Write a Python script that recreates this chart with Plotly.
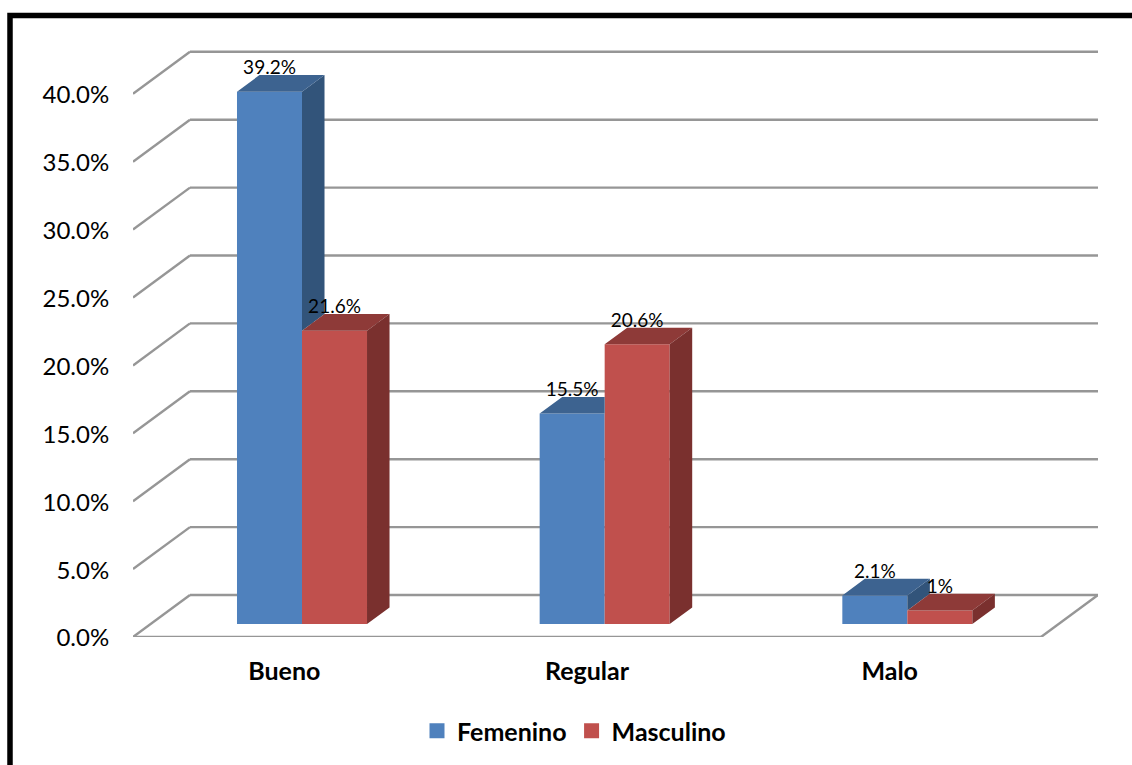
import plotly.graph_objects as go

# Chart data
categories = ["Bueno", "Regular", "Malo"]
femenino = [39.2, 15.5, 2.1]
masculino = [21.6, 20.6, 1.0]
y_ticks = [0, 5, 10, 15, 20, 25, 30, 35, 40]

# Oblique projection used for the 3D look, in axis units
WALL_DX = 0.1883      # horizontal shift from the front of the floor to the back wall
WALL_DY = 3.093       # vertical shift from the front of the floor to the back wall
BAR_NEAR = 0.31       # depth fraction where the bars start
BAR_DEPTH = 0.395     # depth fraction the bars occupy
BAR_WIDTH = 0.2148
LABEL_GAP = 0.4       # distance from the back edge of a bar top to its label centre
Y_TOP = 43.3

BLUE = {"front": "#4F81BD", "top": "#3D6390", "side": "#32547A"}
RED = {"front": "#C0504D", "top": "#8E3A38", "side": "#7A302E"}
GRID = "#969696"
FONT = "Lato, Carlito, Calibri, sans-serif"

lift_x = BAR_NEAR * WALL_DX
lift_y = BAR_NEAR * WALL_DY
depth_x = BAR_DEPTH * WALL_DX
depth_y = BAR_DEPTH * WALL_DY
positions = list(range(len(categories)))


def polygons(parts):
    """Join closed polygons into one x/y pair for a single filled trace."""
    xs, ys = [], []
    for part in parts:
        xs += [p[0] for p in part] + [part[0][0], None]
        ys += [p[1] for p in part] + [part[0][1], None]
    return xs, ys


def face(xs_ys, color):
    return go.Scatter(x=xs_ys[0], y=xs_ys[1], mode="lines", fill="toself", fillcolor=color,
                      line=dict(width=0, color=color), hoverinfo="skip", showlegend=False)


fig = go.Figure()

# Front faces
for name, values, colors, side in (("Femenino", femenino, BLUE, -1), ("Masculino", masculino, RED, 1)):
    fig.add_bar(name=name, x=[p + lift_x + side * BAR_WIDTH / 2 for p in positions], y=values,
                base=[lift_y] * len(values), width=BAR_WIDTH, showlegend=False,
                marker=dict(color=colors["front"], line=dict(width=0)))

# Side and top faces; Femenino is trimmed where the Masculino front face sits ahead of it
fem_sides, fem_tops, mas_sides, mas_tops = [], [], [], []
for p, f, m in zip(positions, femenino, masculino):
    left = p + lift_x - BAR_WIDTH
    mid = p + lift_x
    right = p + lift_x + BAR_WIDTH
    f_top = lift_y + f
    m_top = lift_y + m
    if m_top < f_top:
        fem_sides.append([(mid, m_top), (mid, f_top), (mid + depth_x, f_top + depth_y), (mid + depth_x, m_top + depth_y)])
        fem_tops.append([(left, f_top), (mid, f_top), (mid + depth_x, f_top + depth_y), (left + depth_x, f_top + depth_y)])
    else:
        fem_tops.append([(left, f_top), (mid, f_top), (mid, f_top + depth_y), (left + depth_x, f_top + depth_y)])
    mas_sides.append([(right, lift_y), (right, m_top), (right + depth_x, m_top + depth_y), (right + depth_x, lift_y + depth_y)])
    mas_tops.append([(mid, m_top), (right, m_top), (right + depth_x, m_top + depth_y), (mid + depth_x, m_top + depth_y)])

fig.add_trace(face(polygons(fem_sides), BLUE["side"]))
fig.add_trace(face(polygons(fem_tops), BLUE["top"]))
fig.add_trace(face(polygons(mas_tops), RED["top"]))
fig.add_trace(face(polygons(mas_sides), RED["side"]))

# Value labels above each bar
for values, side in ((femenino, -1), (masculino, 1)):
    fig.add_trace(go.Scatter(
        x=[p + lift_x + side * BAR_WIDTH / 2 for p in positions],
        y=[lift_y + v + depth_y + LABEL_GAP for v in values],
        mode="text", text=[f"{v:g}%" for v in values], textposition="middle center",
        textfont=dict(family=FONT, size=19, color="#000000"),
        cliponaxis=False, hoverinfo="skip", showlegend=False))

# Legend keys
for name, colors in (("Femenino", BLUE), ("Masculino", RED)):
    fig.add_trace(go.Scatter(name=name, x=[None], y=[None], mode="markers", hoverinfo="skip",
                             marker=dict(symbol="square", size=15, color=colors["front"])))

# Back wall, side wall and floor edges
line = dict(color=GRID, width=2.4)
x_start, x_end = -0.5, len(categories) - 0.5
shapes = []
for t in y_ticks:
    shapes.append(dict(type="line", xref="x", yref="y", layer="below", line=line,
                       x0=x_start, y0=t, x1=x_start + WALL_DX, y1=t + WALL_DY))
    shapes.append(dict(type="line", xref="x", yref="y", layer="below", line=line,
                       x0=x_start + WALL_DX, y0=t + WALL_DY, x1=x_end + WALL_DX, y1=t + WALL_DY))
shapes.append(dict(type="line", xref="x", yref="y", layer="below", line=line, x0=x_start, y0=0, x1=x_end, y1=0))
shapes.append(dict(type="line", xref="x", yref="y", layer="below", line=line,
                   x0=x_end, y0=0, x1=x_end + WALL_DX, y1=WALL_DY))

# Chart border, running past the right and bottom of the page
PLOT_L, PLOT_R, PLOT_T, PLOT_B = 133, 34, 49, 128
plot_w = 1132 - PLOT_L - PLOT_R
plot_h = 765 - PLOT_T - PLOT_B
shapes.append(dict(type="rect", xref="paper", yref="paper", layer="below",
                   x0=(10 - PLOT_L) / plot_w, x1=(1160 - PLOT_L) / plot_w,
                   y0=(765 - PLOT_B - 800) / plot_h, y1=(765 - PLOT_B - 15.5) / plot_h,
                   line=dict(color="#000000", width=5.5), fillcolor="rgba(0,0,0,0)"))

fig.update_layout(
    width=1132, height=765,
    autosize=False,
    margin=dict(l=PLOT_L, r=PLOT_R, t=PLOT_T, b=PLOT_B, pad=0, autoexpand=False),
    paper_bgcolor="#FFFFFF", plot_bgcolor="rgba(0,0,0,0)",
    barmode="overlay", shapes=shapes,
    xaxis=dict(range=[x_start, x_end + WALL_DX], tickmode="array", tickvals=positions, ticktext=categories,
               showgrid=False, zeroline=False, showline=False, ticks="outside", ticklen=12,
               tickcolor="rgba(0,0,0,0)", tickfont=dict(family=FONT, size=25, color="#000000", weight=700)),
    yaxis=dict(range=[0, Y_TOP], tickmode="array", tickvals=y_ticks,
               ticktext=[f"{t:.1f}%" for t in y_ticks], ticklabelshift=1,
               showgrid=False, zeroline=False, showline=False, ticks="outside", ticklen=18,
               tickcolor="rgba(0,0,0,0)", tickfont=dict(family=FONT, size=24, color="#000000")),
    legend=dict(orientation="h", x=(417 - PLOT_L) / plot_w, xanchor="left",
                y=(765 - PLOT_B - 708) / plot_h, yanchor="top",
                font=dict(family=FONT, size=25, color="#000000", weight=700),
                bgcolor="rgba(0,0,0,0)", itemsizing="trace"),
)

fig.write_html("out.html", config={"displayModeBar": False})
